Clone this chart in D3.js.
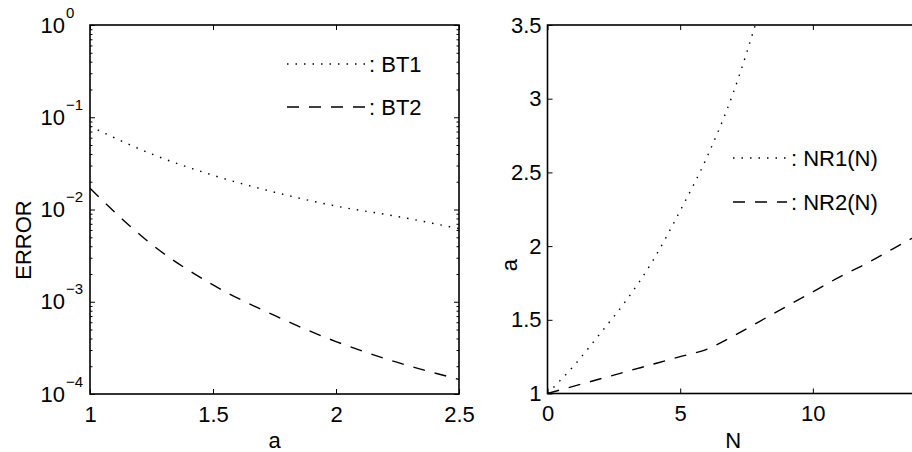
<!DOCTYPE html>
<html>
<head>
<meta charset="utf-8">
<script src="https://cdn.jsdelivr.net/npm/d3@7"></script>
<style>
  body { margin: 0; background: #fff; }
  svg text { font-family: "Liberation Sans", Arial, sans-serif; fill: #000; }
</style>
</head>
<body>
<div id="container"></div>
<script>
// left panel: error vs a
const aValues = [1, 1.25, 1.5, 1.75, 2, 2.25, 2.5];
const bt1 = [0.080, 0.040, 0.0235, 0.0154, 0.0109, 0.0084, 0.0062];
const bt2 = [0.017, 0.0042, 0.00152, 0.00071, 0.00037, 0.00022, 0.000144];
const errTicks = [1e-4, 1e-3, 1e-2, 1e-1, 1];
const errExponents = ['\u22124', '\u22123', '\u22122', '\u22121', '0'];
const aTicks = [1, 1.5, 2, 2.5];

// right panel: a vs N
const nValues1 = [0, 1, 2, 3, 4, 5, 6, 7, 8];
const nr1 = [1, 1.19, 1.41, 1.64, 1.91, 2.24, 2.60, 3.04, 3.60];
const nValues2 = [0, 1, 2, 3, 4, 5, 6, 7, 8, 9, 10, 11, 12, 13, 14];
const nr2 = [1, 1.05, 1.10, 1.15, 1.20, 1.25, 1.30, 1.39, 1.49, 1.59, 1.69, 1.79, 1.88, 1.98, 2.08];
const nTicks = [0, 5, 10];
const aTicksRight = [1, 1.5, 2, 2.5, 3, 3.5];

const w = 912, h = 452;
const fs = 22;
const dotted = '1.5,7';
const dashed = '12,10';

const svg = d3.select('#container').append('svg')
    .attr('width', w)
    .attr('height', h);

const defs = svg.append('defs');

const drawPanel = (p) => {
    const [x0, x1] = p.x.range();
    const [y0, y1] = p.y.range();
    const g = svg.append('g');

    defs.append('clipPath').attr('id', p.id)
        .append('rect')
        .attr('x', x0).attr('y', y1)
        .attr('width', x1 - x0).attr('height', y0 - y1);

    // inward ticks on all four sides
    const mk = (axis, tr) => g.append('g')
        .attr('transform', tr)
        .call(axis)
        .call(s => s.select('.domain').remove())
        .call(s => s.selectAll('line').attr('stroke', '#000').attr('stroke-width', 1));

    const xb = mk(d3.axisBottom(p.x).tickValues(p.xTicks).tickSize(-5).tickPadding(12).tickFormat(d3.format('')), `translate(0,${y0})`);
    mk(d3.axisTop(p.x).tickValues(p.xTicks).tickSize(-5).tickFormat(''), `translate(0,${y1})`);
    const yl = mk(d3.axisLeft(p.y).tickValues(p.yTicks).tickSize(-5).tickPadding(6).tickFormat(p.yFormat), `translate(${x0},0)`);
    mk(d3.axisRight(p.y).tickValues(p.yTicks).tickSize(-5).tickFormat(''), `translate(${x1},0)`);
    if (p.minor) {
        mk(d3.axisLeft(p.y).tickValues(p.minor).tickSize(-2.5).tickFormat(''), `translate(${x0},0)`);
        mk(d3.axisRight(p.y).tickValues(p.minor).tickSize(-2.5).tickFormat(''), `translate(${x1},0)`);
    }

    xb.selectAll('text').attr('font-size', fs).attr('font-family', null);
    yl.selectAll('text').attr('font-size', fs).attr('font-family', null);

    g.append('rect')
        .attr('x', x0).attr('y', y1)
        .attr('width', x1 - x0).attr('height', y0 - y1)
        .attr('fill', 'none').attr('stroke', '#000').attr('stroke-width', 1.6);

    const plot = g.append('g').attr('clip-path', `url(#${p.id})`);
    p.series.forEach(s => {
        const line = d3.line()
            .x((d, i) => p.x(s.xs[i]))
            .y(d => p.y(d))
            .curve(d3.curveMonotoneX);
        plot.append('path')
            .datum(s.ys)
            .attr('d', line)
            .attr('fill', 'none')
            .attr('stroke', '#000')
            .attr('stroke-width', 1.4)
            .attr('stroke-dasharray', s.dash);
    });

    // legend
    p.series.forEach((s, i) => {
        const ly = p.legend.y + i * p.legend.step;
        g.append('line')
            .attr('x1', p.legend.x).attr('x2', p.legend.x + p.legend.len)
            .attr('y1', ly).attr('y2', ly)
            .attr('stroke', '#000').attr('stroke-width', 1.4)
            .attr('stroke-dasharray', s.dash);
        g.append('text')
            .attr('x', p.legend.x + p.legend.len + 4)
            .attr('y', ly + 8)
            .attr('font-size', fs)
            .text(': ' + s.name);
    });

    g.append('text')
        .attr('x', (x0 + x1) / 2).attr('y', 448)
        .attr('text-anchor', 'middle').attr('font-size', fs)
        .text(p.xLabel);
    g.append('text')
        .attr('transform', `translate(${p.yLabelX},${p.yLabelY}) rotate(-90)`)
        .attr('text-anchor', 'middle').attr('font-size', fs)
        .text(p.yLabel);
    return yl;
};

const xA = d3.scaleLinear().domain([1, 2.5]).range([90, 459]);
const yErr = d3.scaleLog().domain([1e-4, 1]).range([394, 25]);
const minorErr = yErr.ticks().filter(v => !errTicks.some(t => Math.abs(t - v) / t < 1e-9));

const leftAxis = drawPanel({
    id: 'clipL', x: xA, y: yErr,
    xTicks: aTicks, yTicks: errTicks, minor: minorErr,
    yFormat: () => '',
    series: [
        { name: 'BT1', xs: aValues, ys: bt1, dash: dotted },
        { name: 'BT2', xs: aValues, ys: bt2, dash: dashed }
    ],
    legend: { x: 287, y: 64, step: 43, len: 78 },
    xLabel: 'a', yLabel: 'ERROR', yLabelX: 31, yLabelY: 240
});

// log tick labels 10^k
leftAxis.selectAll('.tick').each(function (d, i) {
    const t = d3.select(this).select('text')
        .attr('x', -25).attr('text-anchor', 'end');
    t.text('10');
    d3.select(this).append('text')
        .attr('x', -24).attr('y', -8)
        .attr('font-size', 15)
        .attr('text-anchor', 'start')
        .text(errExponents[i]);
});

const xN = d3.scaleLinear().domain([0, 14]).range([547.5, 919]);
const yA = d3.scaleLinear().domain([1, 3.5]).range([393.5, 25]);

drawPanel({
    id: 'clipR', x: xN, y: yA,
    xTicks: nTicks, yTicks: aTicksRight,
    yFormat: d3.format(''),
    series: [
        { name: 'NR1(N)', xs: nValues1, ys: nr1, dash: dotted },
        { name: 'NR2(N)', xs: nValues2, ys: nr2, dash: dashed }
    ],
    legend: { x: 733, y: 158, step: 44, len: 54 },
    xLabel: 'N', yLabel: 'a', yLabelX: 517, yLabelY: 265
});
</script>
</body>
</html>
